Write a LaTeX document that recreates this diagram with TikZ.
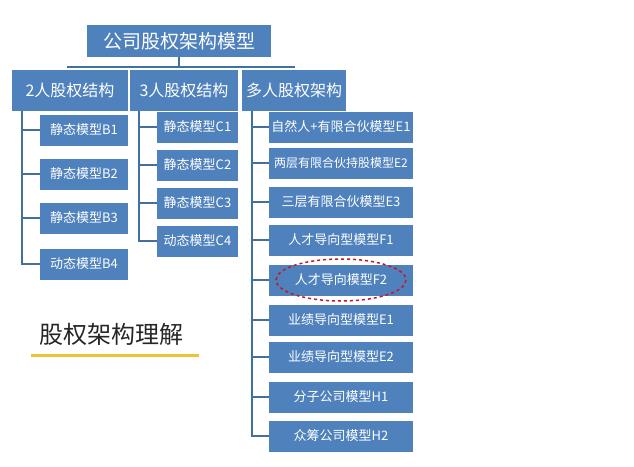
\documentclass[tikz,border=0pt]{standalone}
\usepackage{fontspec}
\setmainfont{Noto Sans CJK SC}
\definecolor{boxblue}{HTML}{4F81BD}
\definecolor{linkblue}{HTML}{41719C}
\definecolor{ovalred}{HTML}{C0182A}
\definecolor{bargold}{HTML}{F2C033}
\tikzset{
  blk/.style={fill=boxblue,text=white,inner sep=0pt,anchor=center},
  leaf/.style={blk,minimum height=31pt,font=\fontsize{13}{13}\selectfont},
  link/.style={linkblue,line width=1.5pt}
}
\begin{document}
\begin{tikzpicture}[x=1pt,y=-1pt]
\useasboundingbox (0,0) rectangle (634,466);
% top and first level
\node[blk,minimum width=184pt,minimum height=32pt,font=\fontsize{19}{19}\selectfont] (top) at (179,41) {公司股权架构模型};
\node[blk,minimum width=116pt,minimum height=41pt,font=\fontsize{16}{16}\selectfont] (two) at (70,90) {2人股权结构};
\node[blk,minimum width=108pt,minimum height=41pt,font=\fontsize{16}{16}\selectfont] (three) at (184,90) {3人股权结构};
\node[blk,minimum width=104pt,minimum height=41pt,font=\fontsize{16}{16}\selectfont] (many) at (294,90) {多人股权架构};
\coordinate (bar) at (179,67);
\draw[link] (top.south) -- (bar);
\draw[link] (67,67) -- (295,67);
% leaves
\foreach \name/\y/\txt in {b1/130/静态模型B1,b2/174/静态模型B2,b3/218/静态模型B3,b4/264/动态模型B4}
  \node[leaf,minimum width=88pt] (\name) at (84,\y) {\txt};
\foreach \name/\y/\txt in {c1/127/静态模型C1,c2/165/静态模型C2,c3/203/静态模型C3,c4/241/动态模型C4}
  \node[leaf,minimum width=81pt] (\name) at (197.5,\y) {\txt};
\foreach \name/\y/\txt in {e1/127/自然人+有限合伙模型E1,e3/202/三层有限合伙模型E3,f1/240/人才导向型模型F1,f2/280/人才导向模型F2,g1/320/业绩导向型模型E1,g2/357/业绩导向型模型E2,h1/397/分子公司模型H1,h2/436/众筹公司模型H2}
  \node[leaf,minimum width=144pt] (\name) at (341,\y) {\txt};
\node[leaf,minimum width=144pt,font=\fontsize{12}{12}\selectfont] (e2) at (341,163) {两层有限合伙持股模型E2};
% spines
\draw[link] (22,111) |- (b4.west);
\foreach \n in {b1,b2,b3} \draw[link] (22,0 |- \n.west) -- (\n.west);
\draw[link] (139,111) |- (c4.west);
\foreach \n in {c1,c2,c3} \draw[link] (139,0 |- \n.west) -- (\n.west);
\draw[link] (252,111) |- (h2.west);
\foreach \n in {e1,e2,e3,f1,f2,g1,g2,h1} \draw[link] (252,0 |- \n.west) -- (\n.west);
% highlight
\draw[ovalred,dashed,line width=1.5pt] (f2.center) ellipse [x radius=65, y radius=21];
% caption
\node[font=\fontsize{24}{24}\selectfont,text=black!85,anchor=west] (cap) at (36,334) {股权架构理解};
\draw[bargold,line width=3pt] (31,355) -- (199,355);
\end{tikzpicture}
\end{document}
